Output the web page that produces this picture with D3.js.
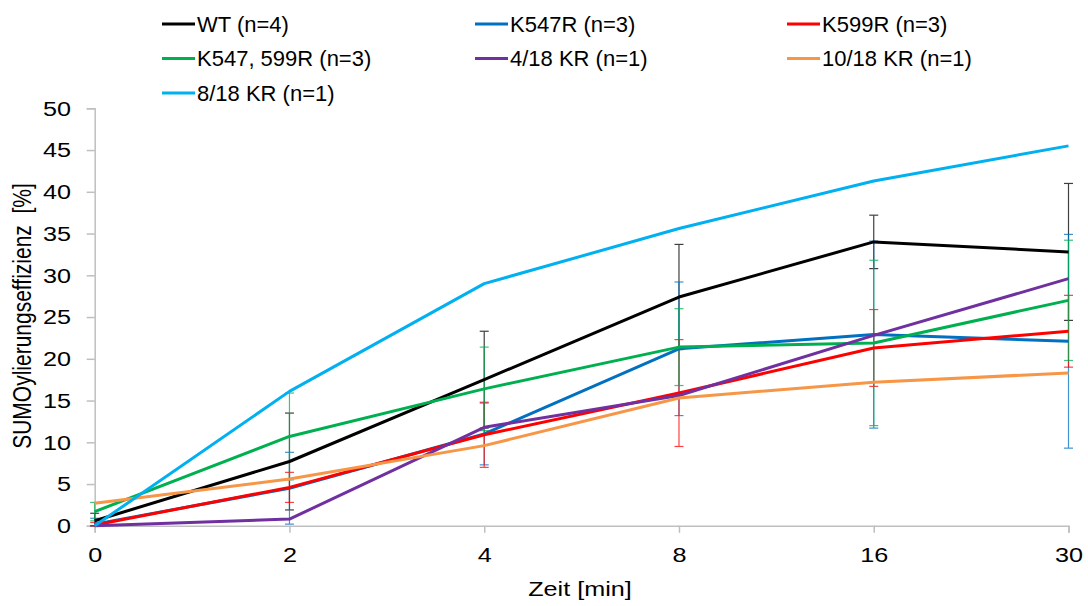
<!DOCTYPE html>
<html>
<head>
<meta charset="utf-8">
<script src="https://cdn.jsdelivr.net/npm/d3@7/dist/d3.min.js"></script>
<style>
  body { margin: 0; background: #fff; }
  svg { font-family: "Liberation Sans", Arial, sans-serif; }
</style>
</head>
<body>
<svg id="canvas" width="1088" height="606"></svg>
<script>
// time points (categorical axis)
let timeLabels = ['0', '2', '4', '8', '16', '30']

let seriesNames = ['WT (n=4)', 'K547R (n=3)', 'K599R (n=3)', 'K547, 599R (n=3)', '4/18 KR (n=1)', '10/18 KR (n=1)', '8/18 KR (n=1)']
let seriesColors = ['#000000', '#0070c0', '#ff0000', '#00b050', '#7030a0', '#f79646', '#00b0f0']

let wtValues = [0.6, 7.7, 17.5, 27.4, 34.0, 32.8]
let wtErrors = [0.9, 5.8, 5.8, 6.3, 3.2, 8.2]
let k547Values = [0.2, 4.5, 11.0, 21.2, 22.9, 22.1]
let k547Errors = [0.7, 4.3, 3.7, 8.0, 11.2, 12.8]
let k599Values = [0.1, 4.6, 10.9, 15.9, 21.3, 23.3]
let k599Errors = [0.3, 1.8, 3.9, 6.4, 4.6, 4.3]
let k547k599Values = [1.7, 10.7, 16.4, 21.4, 21.9, 27.0]
let k547k599Errors = [1.1, 5.2, 5.0, 4.6, 9.9, 7.2]
let kr4Values = [0, 0.8, 11.8, 15.6, 22.8, 29.6]
let kr10Values = [2.7, 5.6, 9.6, 15.3, 17.2, 18.3]
let kr8Values = [0, 16.1, 29.0, 35.6, 41.3, 45.5]

let yTicks = [0, 5, 10, 15, 20, 25, 30, 35, 40, 45, 50]

let seriesValues = [wtValues, k547Values, k599Values, k547k599Values, kr4Values, kr10Values, kr8Values]
let seriesErrors = [wtErrors, k547Errors, k599Errors, k547k599Errors, null, null, null]

let series = seriesNames.map((name, i) => {
    return { name: name, color: seriesColors[i], values: seriesValues[i], errors: seriesErrors[i] }
})

let canvas = d3.select('#canvas')
let axisColor = '#bfbfbf'
let stretch = 1.2   // the original's text is a bit wider than the font

let xScale = d3.scalePoint()
               .domain(timeLabels)
               .range([94.7, 1068.5])

let yScale = d3.scaleLinear()
               .domain([0, 50])
               .range([525.8, 108.3])

// axes
let xAxis = d3.axisBottom(xScale).tickSize(7).tickPadding(14)
let yAxis = d3.axisLeft(yScale).tickValues(yTicks).tickSize(8).tickPadding(11.8)

canvas.append('g')
      .attr('transform', 'translate(0, ' + yScale(0) + ')')
      .call(xAxis)
canvas.append('g')
      .attr('transform', 'translate(' + xScale('0') + ', 0)')
      .call(yAxis)

canvas.selectAll('.domain, .tick line')
      .attr('stroke', axisColor)
      .attr('stroke-width', 1.5)
canvas.selectAll('.tick text')
      .attr('fill', '#000')
      .attr('transform', 'scale(' + stretch + ', 1)')
      .style('font-size', '21px')
      .style('font-family', '"Liberation Sans", Arial, sans-serif')

// error bars
series.forEach((s) => {
    if (!s.errors) return
    let g = canvas.append('g').attr('stroke', s.color).attr('stroke-width', 1.2).attr('opacity', 0.75)
    s.values.forEach((v, i) => {
        let x = xScale(timeLabels[i])
        let yTop = yScale(v + s.errors[i])
        let yBottom = yScale(Math.max(0, v - s.errors[i]))
        g.append('line').attr('x1', x).attr('x2', x).attr('y1', yTop).attr('y2', yBottom)
        g.append('line').attr('x1', x - 4.5).attr('x2', x + 4.5).attr('y1', yTop).attr('y2', yTop)
        g.append('line').attr('x1', x - 4.5).attr('x2', x + 4.5).attr('y1', yBottom).attr('y2', yBottom)
    })
})

// lines
let lineMaker = d3.line()
                  .x((d, i) => xScale(timeLabels[i]))
                  .y((d) => yScale(d))

series.forEach((s) => {
    canvas.append('path')
          .attr('d', lineMaker(s.values))
          .attr('fill', 'none')
          .attr('stroke', s.color)
          .attr('stroke-width', 3)
          .attr('stroke-linejoin', 'round')
})

// axis titles
canvas.append('text')
      .attr('transform', 'translate(580, 596) scale(' + stretch + ', 1)')
      .attr('text-anchor', 'middle')
      .style('font-size', '21px')
      .text('Zeit [min]')

canvas.append('text')
      .attr('transform', 'translate(31, 316) rotate(-90) scale(1, ' + stretch + ')')
      .attr('text-anchor', 'middle')
      .style('font-size', '21px')
      .style('white-space', 'pre')
      .text('SUMOylierungseffizienz  [%]')

// legend
let legendCols = [162, 475, 787]
let legendRows = [24, 58.5, 93]

let legend = canvas.selectAll('.legend')
                   .data(series)
                   .enter()
                   .append('g')
                   .attr('class', 'legend')
                   .attr('transform', (s, i) => {
                       return 'translate(' + legendCols[i % 3] + ', ' + legendRows[Math.floor(i / 3)] + ')'
                   })

legend.append('line')
      .attr('x1', 0)
      .attr('x2', 33)
      .attr('stroke', (s) => s.color)
      .attr('stroke-width', 3)

legend.append('text')
      .attr('x', 35)
      .attr('dy', '0.35em')
      .style('font-size', '22px')
      .text((s) => s.name)
</script>
</body>
</html>
